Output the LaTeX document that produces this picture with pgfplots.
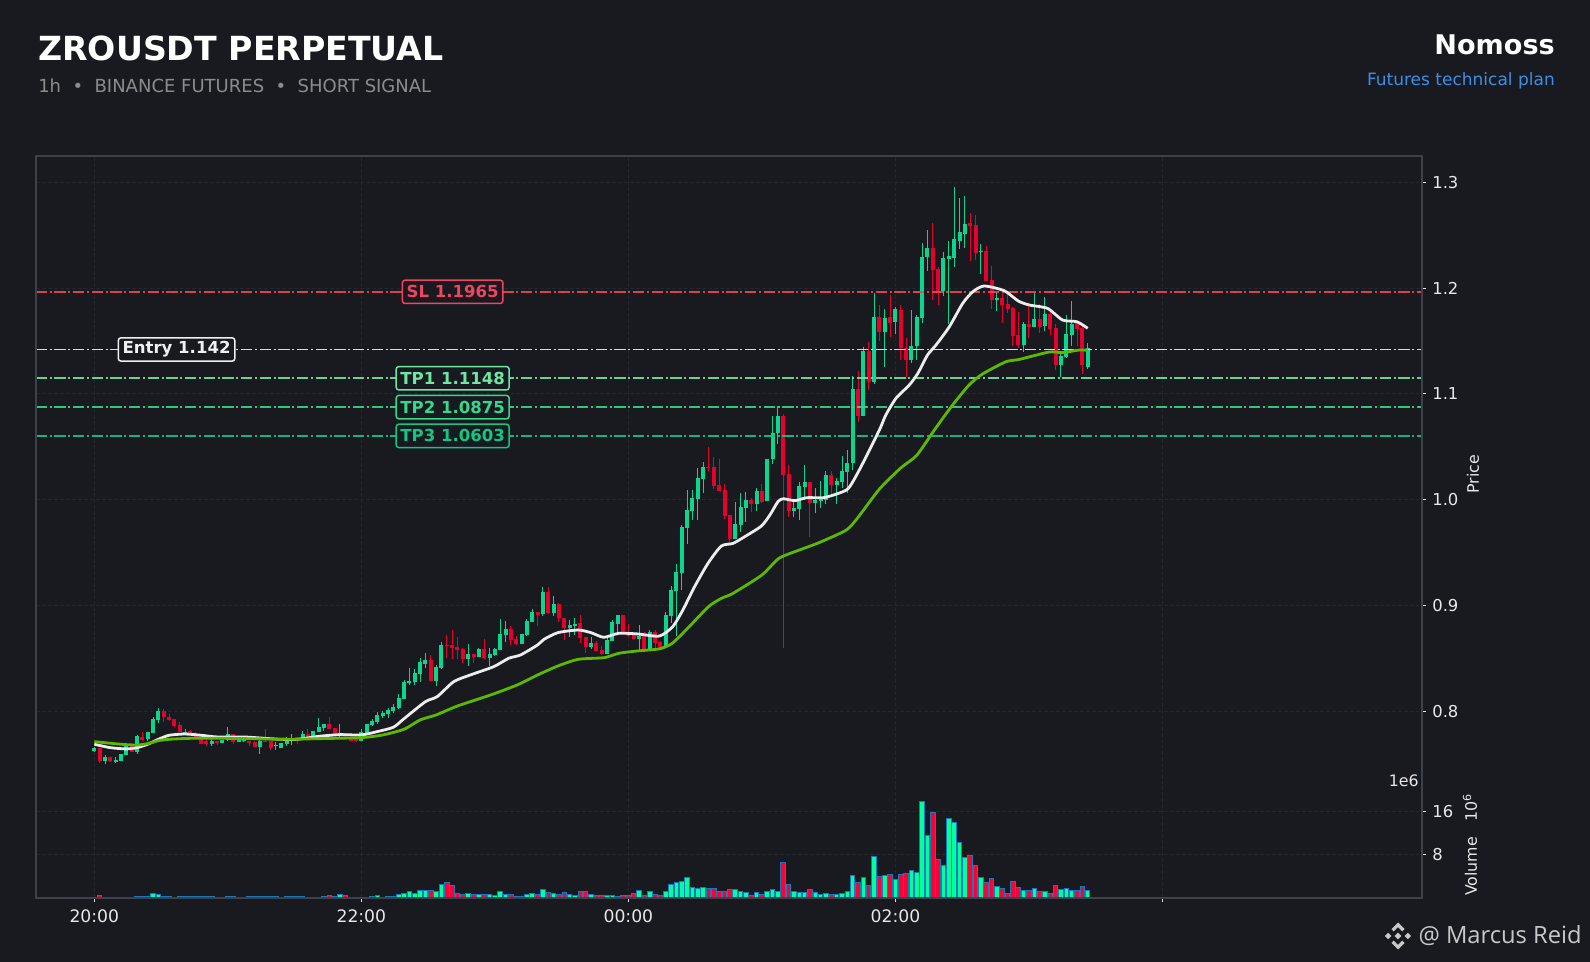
\documentclass[border=0pt]{standalone}
\usepackage{fontspec}
\setmainfont{DejaVu Sans}
\newfontfamily\wmfont{Open Sans}
\usepackage{pgfplots}
\usepackage{pgfplotstable}
\pgfplotsset{compat=1.18}

\definecolor{bgc}{HTML}{181A20}
\definecolor{framec}{HTML}{3D4149}
\definecolor{gridc}{HTML}{23262C}
\definecolor{tickc}{HTML}{E8E8E8}
\definecolor{upc}{HTML}{0BD68F}
\definecolor{downc}{HTML}{E6002D}
\definecolor{volup}{HTML}{00FF9D}
\definecolor{voldown}{HTML}{FF0033}
\definecolor{voledge}{HTML}{1A78BE}
\definecolor{slc}{HTML}{F04460}
\definecolor{entryc}{HTML}{F0F0F0}
\definecolor{tpa}{HTML}{6EE7A4}
\definecolor{tpb}{HTML}{34D98B}
\definecolor{tpc}{HTML}{10C785}
\definecolor{emaa}{HTML}{EDEDED}
\definecolor{emab}{HTML}{5CB800}

% x = candle number, o h l c = price, v = volume in millions
\pgfplotstableread{
x o h l c v
0 .7625 .7665 .7615 .7650 .1
1 .7650 .7650 .7508 .7533 .45
2 .7530 .7584 .7505 .7568 .05
3 .7568 .7568 .7525 .7530 .05
4 .7521 .7568 .7508 .7540 .05
5 .7533 .7600 .7533 .7596 .05
6 .7587 .7680 .7585 .7672 .05
7 .7672 .7690 .7615 .7618 .05
8 .7618 .7775 .7600 .7766 .25
9 .7757 .7801 .7719 .7732 .25
10 .7738 .7804 .7720 .7804 .25
11 .7798 .7950 .7798 .7930 .85
12 .7918 .8035 .7885 .8003 .6
13 .8003 .8025 .7903 .7950 .3
14 .7946 .7975 .7905 .7918 .3
15 .7927 .7930 .7855 .7861 .1
16 .7870 .7900 .7800 .7807 .3
17 .7801 .7833 .7776 .7807 .3
18 .7814 .7823 .7776 .7798 .3
19 .7782 .7805 .7755 .7760 .3
20 .7760 .7760 .7691 .7691 .3
21 .7720 .7735 .7675 .7691 .3
22 .7691 .7745 .7675 .7720 .3
23 .7720 .7720 .7680 .7697 .05
24 .7697 .7732 .7697 .7732 .05
25 .7730 .7848 .7720 .7786 .3
26 .7782 .7785 .7688 .7713 .3
27 .7713 .7735 .7705 .7735 .1
28 .7720 .7730 .7705 .7725 .1
29 .7722 .7722 .7675 .7697 .25
30 .7713 .7715 .7665 .7665 .25
31 .7665 .7730 .7600 .7722 .25
32 .7722 .7833 .7713 .7713 .25
33 .7716 .7716 .7634 .7650 .25
34 .7670 .7713 .7634 .7680 .25
35 .7656 .7700 .7656 .7700 .1
36 .7691 .7760 .7675 .7719 .25
37 .7722 .7785 .7678 .7740 .25
38 .7735 .7760 .7688 .7725 .25
39 .7738 .7812 .7738 .7785 .25
40 .7785 .7832 .7745 .7745 .1
41 .7757 .7814 .7757 .7814 .1
42 .7801 .7934 .7801 .7850 .1
43 .7840 .7880 .7817 .7880 .25
44 .7880 .7943 .7830 .7830 .45
45 .7842 .7842 .7783 .7783 .25
46 .7776 .7880 .7750 .7792 .7
47 .7792 .7795 .7748 .7776 .4
48 .7745 .7760 .7715 .7720 .05
49 .7742 .7750 .7705 .7720 .05
50 .7720 .7830 .7720 .7808 .05
51 .7792 .7880 .7790 .7880 .1
52 .7871 .7930 .7860 .7908 .25
53 .7896 .7995 .7880 .7965 .5
54 .7956 .8000 .7940 .7984 .05
55 .7975 .8035 .7940 .8016 .25
56 .8003 .8070 .7985 .8041 .25
57 .8028 .8160 .8020 .8123 .6
58 .8116 .8300 .8116 .8280 .8
59 .8268 .8406 .8250 .8287 1.2
60 .8274 .8403 .8252 .8365 .8
61 .8356 .8500 .8280 .8468 1.4
62 .8447 .8548 .8405 .8485 1.4
63 .8485 .8530 .8283 .8286 1.4
64 .8283 .8440 .8243 .8422 1.2
65 .8406 .8652 .8400 .8627 2.45
66 .8627 .8721 .8507 .8617 2.9
67 .8627 .8768 .8494 .8602 2.3
68 .8605 .8699 .8494 .8579 .85
69 .8589 .8600 .8460 .8494 .6
70 .8494 .8633 .8431 .8542 .85
71 .8542 .8542 .8460 .8516 .6
72 .8510 .8595 .8510 .8589 .6
73 .8589 .8680 .8490 .8500 .6
74 .8507 .8600 .8430 .8542 .6
75 .8529 .8600 .8525 .8589 .4
76 .8579 .8875 .8579 .8731 1.2
77 .8721 .8850 .8650 .8778 .6
78 .8778 .8810 .8630 .8674 .6
79 .8684 .8710 .8630 .8636 .25
80 .8636 .8735 .8636 .8731 .25
81 .8721 .8870 .8715 .8857 .6
82 .8845 .8970 .8845 .8942 .85
83 .8942 .8942 .8810 .8910 .6
84 .8920 .9178 .8905 .9128 1.6
85 .9128 .9178 .8920 .8926 1.05
86 .8926 .9085 .8904 .9014 .85
87 .9014 .9027 .8847 .8879 .6
88 .8879 .8882 .8674 .8784 1.05
89 .8784 .8863 .8705 .8816 .6
90 .8809 .8879 .8721 .8825 .4
91 .8831 .8910 .8642 .8696 1.2
92 .8699 .8699 .8554 .8605 1.2
93 .8605 .8705 .8585 .8642 .6
94 .8649 .8665 .8570 .8570 .4
95 .8579 .8617 .8530 .8538 .4
96 .8538 .8700 .8538 .8674 .4
97 .8664 .8860 .8660 .8841 .4
98 .8825 .8910 .8750 .8910 .25
99 .8910 .8910 .8750 .8753 .4
100 .8730 .8825 .8700 .8712 .4
101 .8721 .8753 .8680 .8683 .85
102 .8680 .8816 .8580 .8712 1.4
103 .8743 .8750 .8586 .8586 .4
104 .8586 .8770 .8580 .8753 1.2
105 .8753 .8770 .8586 .8642 .6
106 .8652 .8665 .8590 .8605 .4
107 .8605 .8943 .8605 .8910 1.2
108 .8900 .9180 .8835 .9146 2.45
109 .9140 .9390 .8715 .9316 2.9
110 .9310 .9760 .9146 .9745 3.05
111 .9735 1.0091 .9577 .9902 3.8
112 .9896 1.0090 .9808 1.0016 1.95
113 1.0009 1.0300 .9808 1.0205 1.8
114 1.0198 1.0360 1.0060 1.0306 1.95
115 1.0309 1.0495 1.0268 1.0300 1.8
116 1.0309 1.0400 1.0104 1.0129 1.8
117 1.0139 1.0381 1.0085 1.0085 1.2
118 1.0091 1.0148 .9814 .9849 1.2
119 .9855 .9855 .9590 .9631 1.6
120 .9628 .9981 .9628 .9770 1.6
121 .9760 1.0066 .9698 .9931 1.2
122 .9924 1.0075 .9790 .9997 1.05
123 .9997 1.0016 .9880 .9962 .4
124 .9959 1.0110 .9890 1.0079 1.05
125 1.0085 1.0150 .9970 .9981 .6
126 .9991 1.0385 .9985 1.0381 1.2
127 1.0381 1.0790 1.0340 1.0630 1.6
128 1.0627 1.0885 1.0530 1.0794 1.2
129 1.0791 1.0810 .8595 1.0236 6.55
130 1.0243 1.0330 .9840 .9896 2.5
131 .9896 .9975 .9835 .9921 1.2
132 .9912 1.0170 .9810 1.0126 1.05
133 1.0117 1.0330 .9997 1.0164 1.05
134 1.0167 1.0170 .9650 .9972 1.6
135 .9966 1.0110 .9870 .9997 1.05
136 .9991 1.0180 .9920 1.0013 .6
137 .9997 1.0270 .9960 1.0233 .85
138 1.0233 1.0270 1.0044 1.0139 .6
139 1.0139 1.0205 .9960 1.0180 .6
140 1.0164 1.0410 1.0110 1.0271 .85
141 1.0258 1.0465 1.0060 1.0350 1.2
142 1.0344 1.1172 1.0280 1.1046 4.2
143 1.1046 1.1220 1.0730 1.0791 2.9
144 1.0791 1.1440 1.0791 1.1405 3.8
145 1.1405 1.1490 1.1040 1.1115 2.35
146 1.1109 1.1950 1.1095 1.1727 7.65
147 1.1727 1.1840 1.1500 1.1585 4
148 1.1582 1.1800 1.1250 1.1717 4.2
149 1.1727 1.1935 1.1540 1.1670 4.35
150 1.1680 1.1820 1.1566 1.1802 3.45
151 1.1793 1.1840 1.1316 1.1430 4.35
152 1.1430 1.1526 1.1160 1.1320 4.55
153 1.1320 1.1790 1.1290 1.1450 5.1
154 1.1450 1.1750 1.1325 1.1726 4.75
155 1.1720 1.2430 1.1670 1.2297 17.8
156 1.2290 1.2550 1.2165 1.2380 11.55
157 1.2380 1.2620 1.1890 1.2170 15.8
158 1.2180 1.2200 1.1840 1.1966 7.1
159 1.1975 1.2340 1.1925 1.2285 6
160 1.2275 1.2450 1.1660 1.2303 14.65
161 1.2288 1.2960 1.2200 1.2460 13.95
162 1.2450 1.2850 1.2370 1.2530 10.25
163 1.2511 1.2875 1.2380 1.2605 7.5
164 1.2615 1.2710 1.2260 1.2590 7.85
165 1.2596 1.2695 1.2270 1.2330 6
166 1.2343 1.2415 1.2130 1.2350 3.8
167 1.2350 1.2400 1.2070 1.2070 2.9
168 1.2080 1.2210 1.1800 1.1890 3.6
169 1.1890 1.1950 1.1786 1.1905 2.15
170 1.1906 1.1957 1.1673 1.1840 1.8
171 1.1850 1.1966 1.1762 1.1802 .85
172 1.1812 1.1820 1.1450 1.1550 3.05
173 1.1556 1.1770 1.1430 1.1462 1.95
174 1.1462 1.1680 1.1400 1.1660 1.4
175 1.1660 1.1830 1.1530 1.1635 1.4
176 1.1635 1.1950 1.1630 1.1707 1.8
177 1.1707 1.1850 1.1580 1.1634 1.2
178 1.1640 1.1920 1.1590 1.1755 1.2
179 1.1755 1.1770 1.1560 1.1613 .85
180 1.1623 1.1660 1.1230 1.1273 2.35
181 1.1273 1.1400 1.1160 1.1358 1.6
182 1.1345 1.1750 1.1340 1.1566 1.8
183 1.1556 1.1880 1.1450 1.1664 1.4
184 1.1667 1.1690 1.1450 1.1613 1.4
185 1.1623 1.1640 1.1190 1.1273 2.15
186 1.1255 1.1480 1.1240 1.1430 1.4
}\candles

\pgfplotsset{
  panel/.style={
    scale only axis, width=1039.5pt, anchor=south west,
    xmin=-10.92, xmax=248.6,
    axis line style={draw=none},
    xtick={0,50,100,150,200},
    ytick pos=right, yticklabel pos=right, xtick pos=bottom,
    tick align=outside, major tick length=3pt,
    tick style={color=tickc, line width=0.9pt},
    grid=major, major grid style={color=gridc, line width=0.75pt, dash pattern=on 3pt off 1.5pt},
    yticklabel style={font=\fontsize{12.3}{14}\selectfont, color=tickc, xshift=1.2pt},
    xticklabel style={font=\fontsize{12.9}{14}\selectfont, color=tickc, yshift=-2.2pt},
    /pgf/number format/assume math mode=true,
    clip=true, axis on top=false,
  },
  hline/.style={line width=1.45pt, color=#1, opacity=0.9, dash pattern=on 8.5pt off 2pt on 1.5pt off 2pt},
  wick/.style={draw=none, mark=none, error bars/y dir=plus, error bars/y explicit, error bars/error mark=none,
    error bars/error bar style={line width=0.75pt, color=#1}},
  body/.style={draw=none, mark=none, error bars/y dir=plus, error bars/y explicit, error bars/error mark=none,
    error bars/error bar style={line width=3pt, color=#1}},
}
\tikzset{
  lab/.style={draw=#1, text=#1, fill=bgc, rounded corners=2pt, line width=1.1pt,
    font=\fontsize{12.4}{14}\selectfont\bfseries, minimum height=17.5pt, inner xsep=3.2pt, inner ysep=0pt},
}

\begin{document}
\begin{tikzpicture}[x=0.75pt,y=0.75pt]
\fill[bgc] (0,0) rectangle (1590,962);

% price panel
\begin{axis}[panel, at={(27pt,132.75pt)}, height=471.75pt,
    ymin=0.7303, ymax=1.3249,
    ytick={0.8,0.9,1.0,1.1,1.2,1.3},
    xticklabels={}, x tick style={draw=none},
    yticklabel style={/pgf/number format/.cd, fixed, fixed zerofill, precision=1},
  ]
  \addplot[wick=upc, restrict expr to domain={\thisrow{c}-\thisrow{o}}{0:1}]
    table[x=x, y=l, y error plus expr=\thisrow{h}-\thisrow{l}] {\candles};
  \addplot[body=upc, restrict expr to domain={\thisrow{c}-\thisrow{o}}{0:1}]
    table[x=x, y=o, y error plus expr=\thisrow{c}-\thisrow{o}] {\candles};
  \addplot[wick=downc, restrict expr to domain={\thisrow{c}-\thisrow{o}}{-1:-0.00001}]
    table[x=x, y=l, y error plus expr=\thisrow{h}-\thisrow{l}] {\candles};
  \addplot[body=downc, restrict expr to domain={\thisrow{c}-\thisrow{o}}{-1:-0.00001}]
    table[x=x, y=c, y error plus expr=\thisrow{o}-\thisrow{c}] {\candles};

  \addplot[hline=slc] coordinates {(-11,1.1965) (249,1.1965)};
  \addplot[hline=entryc] coordinates {(-11,1.142) (249,1.142)};
  \addplot[hline=tpa] coordinates {(-11,1.1148) (249,1.1148)};
  \addplot[hline=tpb] coordinates {(-11,1.0875) (249,1.0875)};
  \addplot[hline=tpc] coordinates {(-11,1.0603) (249,1.0603)};

  % fast average
  \addplot[color=emaa, line width=2.1pt, line join=round, smooth, tension=0.4] coordinates {
    (0,.7688)(3,.7656)(6,.7644)(8,.7656)(10,.7688)(12,.7735)(14,.7773)(17,.7785)(20,.7773)
    (23,.7757)(28,.7757)(32,.7744)(35,.7735)(38,.7735)(42,.7763)(46,.7779)(50,.7776)
    (53,.7808)(56,.7849)(58,.7930)(62,.8091)(64.2,.8138)(67.3,.8280)(70.4,.8343)(74.8,.8422)
    (77.6,.8501)(79.8,.8532)(83,.8627)(84.2,.8680)(86.8,.8743)(90.6,.8768)(93,.8743)
    (95.4,.8699)(98.2,.8737)(101.7,.8731)(105.8,.8711)(108.3,.8800)(110.2,.8957)(112.4,.9178)
    (114.9,.9398)(117.4,.9562)(119.6,.9587)(122,.9657)(124.9,.9751)(126.5,.9855)(128,.9981)
    (129,1.0009)(131.2,.9991)(133.4,1.0019)(136.5,1.0019)(139,1.0054)(141.2,1.0107)
    (143.4,1.0296)(147,1.0659)(148.2,1.0800)(150.1,1.0958)(152.6,1.1084)(154.2,1.1194)
    (156,1.1367)(157.6,1.1462)(160.1,1.1635)(162.6,1.1856)(164.5,1.1966)(166.6,1.2020)
    (170.4,1.1975)(173,1.1878)(175.1,1.1840)(178.5,1.1808)(181.3,1.1698)(184,1.1682)(186,1.1620)};
  % slow average
  \addplot[color=emab, line width=2.1pt, line join=round, smooth, tension=0.4] coordinates {
    (0,.7713)(5,.7688)(8,.7681)(10,.7694)(12,.7722)(14,.7735)(18,.7744)(25,.7744)(32,.7738)
    (36,.7735)(42,.7741)(50,.7751)(54,.7776)(58,.7830)(61,.7918)(64,.7965)(68,.8050)
    (74.2,.8154)(79.2,.8249)(83,.8343)(86.8,.8428)(90.6,.8491)(95.5,.8507)(98.2,.8548)
    (101.7,.8570)(105.8,.8590)(108.2,.8642)(111.4,.8800)(115,.8989)(117.4,.9067)(119.6,.9115)
    (125,.9288)(128.2,.9446)(132,.9524)(135.7,.9594)(140.8,.9713)(143,.9833)(147,1.0100)
    (151,1.0300)(154,1.0420)(157.3,1.0659)(160.7,1.0895)(163.8,1.1084)(166.3,1.1188)
    (170.7,1.1304)(173.2,1.1326)(178.8,1.1396)(181.3,1.1390)(184.4,1.1415)(186,1.1412)};

  \node[lab=slc] at (axis cs:67.1,1.1965) {SL 1.1965};
  \node[lab=entryc] at (axis cs:15.4,1.142) {Entry 1.142};
  \node[lab=tpa] at (axis cs:67.1,1.1148) {TP1 1.1148};
  \node[lab=tpb] at (axis cs:67.1,1.0875) {TP2 1.0875};
  \node[lab=tpc] at (axis cs:67.1,1.0603) {TP3 1.0603};
\end{axis}

% volume panel
\begin{axis}[panel, at={(27pt,48pt)}, height=84.75pt,
    ymin=0, ymax=20.83,
    ytick={8,16},
    xticklabels={20:00,22:00,00:00,02:00,{}},
  ]
  \addplot[ybar, bar width=0.85, bar shift=0pt, fill=volup, draw=voledge, line width=0.75pt,
      restrict expr to domain={\thisrow{c}-\thisrow{o}}{0:1}]
    table[x=x, y=v] {\candles};
  \addplot[ybar, bar width=0.85, bar shift=0pt, fill=voldown, draw=voledge, line width=0.75pt,
      restrict expr to domain={\thisrow{c}-\thisrow{o}}{-1:-0.00001}]
    table[x=x, y=v] {\candles};
\end{axis}

\draw[framec, line width=1.5pt] (36,64) rectangle (1422,806);

% header
\node[anchor=base west, inner sep=0pt, text=white, font=\fontsize{24.9}{30}\selectfont\bfseries] at (38,962-60.7) {ZROUSDT PERPETUAL};
\node[anchor=base west, inner sep=0pt, text=black!45!white, font=\fontsize{13.5}{16}\selectfont] at (38,962-92.7) {1h\ \ •\ \ BINANCE FUTURES\ \ •\ \ SHORT SIGNAL};
\node[anchor=base east, inner sep=0pt, text=white, font=\fontsize{20.3}{24}\selectfont\bfseries] at (1555,962-55) {Nomoss};
\node[anchor=base east, inner sep=0pt, text={rgb,255:red,61;green,143;blue,230}, font=\fontsize{12.75}{15}\selectfont] at (1555,962-86) {Futures technical plan};

% axis captions
\node[rotate=90, text=tickc, font=\fontsize{11.85}{14}\selectfont] at (1473,962-474) {Price};
\node[rotate=90, anchor=west, inner sep=0pt, text=tickc, font=\fontsize{11.85}{14}\selectfont] at (1470,962-896) {Volume\ \ \ 10\textsuperscript{6}};
\node[anchor=east, inner sep=0pt, text=tickc, font=\fontsize{11.85}{14}\selectfont] at (1419,962-781) {1e6};

% watermark
\begin{scope}[shift={(1398,962-936)}, fill={rgb,255:red,200;green,200;blue,200}]
  \fill (0,3.4)--(3.4,0)--(0,-3.4)--(-3.4,0)--cycle;
  \fill (9.9,3.2)--(13.1,0)--(9.9,-3.2)--(6.7,0)--cycle;
  \fill (-9.9,3.2)--(-13.1,0)--(-9.9,-3.2)--(-6.7,0)--cycle;
  \fill (-6.6,6.9)--(0,13.5)--(6.6,6.9)--(4.3,4.6)--(0,8.9)--(-4.3,4.6)--cycle;
  \fill (-6.6,-6.9)--(0,-13.5)--(6.6,-6.9)--(4.3,-4.6)--(0,-8.9)--(-4.3,-4.6)--cycle;
\end{scope}
\node[anchor=base east, inner sep=0pt, text={rgb,255:red,200;green,200;blue,200}, font=\fontsize{17.8}{21}\selectfont\wmfont] at (1582,962-943.3) {@ Marcus Reid};
\end{tikzpicture}
\end{document}
